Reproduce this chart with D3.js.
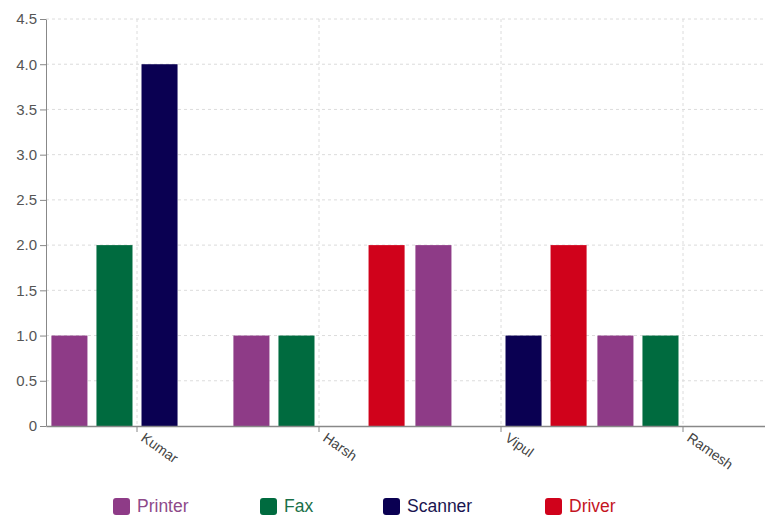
<!DOCTYPE html>
<html><head><meta charset="utf-8">
<script src="https://cdn.jsdelivr.net/npm/d3@7"></script>
<style>
body{margin:0;background:#fff;}
svg{font-family:"Liberation Sans",Arial,sans-serif;}
</style></head>
<body><svg id="c" width="765" height="517"></svg>
<script>
const categories = ["Kumar","Harsh","Vipul","Ramesh"];
const seriesNames = ["Printer","Fax","Scanner","Driver"];
const printer = [1,1,2,1];
const fax = [2,1,0,1];
const scanner = [4,0,1,0];
const driver = [0,2,2,0];
const yTicks = [0,0.5,1,1.5,2,2.5,3,3.5,4,4.5];
const colors = ["#8e3b87","#006b3f","#0a0052","#d0021b"];
const textColors = ["#8e4a8a","#1a7048","#1a1550","#c4141f"];

(function(){
const values = [printer,fax,scanner,driver];
const svg = d3.select("#c");
const mLeft = 46, mTop = 19, mBottom = 426, mRight = 774;

const x = d3.scaleBand().domain(categories).range([mLeft,mRight]).padding(0);
const x1 = d3.scaleBand().domain(seriesNames).range([0,x.bandwidth()]).paddingInner(0.2).paddingOuter(0.12);
const y = d3.scaleLinear().domain([0,4.5]).range([mBottom,mTop]);

// grid
svg.append("g").selectAll("line").data(yTicks.slice(1)).join("line")
  .attr("x1",mLeft).attr("x2",765).attr("y1",d=>y(d)).attr("y2",d=>y(d))
  .attr("stroke","#dcdcdc").attr("stroke-dasharray","3,3");
svg.append("g").selectAll("line").data(categories).join("line")
  .attr("x1",d=>x(d)+x.bandwidth()/2).attr("x2",d=>x(d)+x.bandwidth()/2)
  .attr("y1",mTop).attr("y2",mBottom)
  .attr("stroke","#dcdcdc").attr("stroke-dasharray","3,3");

// bars
const g = svg.append("g");
categories.forEach((c,ci)=>{
  seriesNames.forEach((s,si)=>{
    const v = values[si][ci];
    if(v<=0) return;
    g.append("rect")
      .attr("x",x(c)+x1(s)).attr("width",x1.bandwidth())
      .attr("y",y(v)).attr("height",y(0)-y(v))
      .attr("fill",colors[si]);
  });
});

// y axis
const ya = svg.append("g").attr("transform",`translate(${mLeft},0)`)
  .call(d3.axisLeft(y).tickValues(yTicks).tickFormat(d=>d===0?"0":d3.format(".1f")(d)).tickSize(6).tickSizeOuter(0));
ya.select(".domain").attr("stroke","#888");
ya.selectAll(".tick line").attr("stroke","#888");
ya.selectAll("text").attr("fill","#555").style("font-size","15px").attr("x",-9);

// x axis
const xa = svg.append("g").attr("transform",`translate(0,${mBottom})`)
  .call(d3.axisBottom(x).tickSize(6).tickSizeOuter(0));
xa.select(".domain").attr("stroke","#888").attr("stroke-width",1.5);
xa.selectAll(".tick line").attr("stroke","#888");
xa.selectAll("text").attr("fill","#444").style("font-size","14px")
  .attr("text-anchor","start").attr("dy","0").attr("y",0)
  .attr("transform","translate(3,14) rotate(35)");

// legend
const legX = [113,260,383,545];
const lg = svg.append("g");
seriesNames.forEach((s,i)=>{
  lg.append("rect").attr("x",legX[i]).attr("y",498).attr("width",17).attr("height",17)
    .attr("rx",3).attr("fill",colors[i]);
  lg.append("text").attr("x",legX[i]+24).attr("y",512).text(s)
    .attr("fill",textColors[i]).style("font-size","17.5px");
});
})();
</script></body></html>
